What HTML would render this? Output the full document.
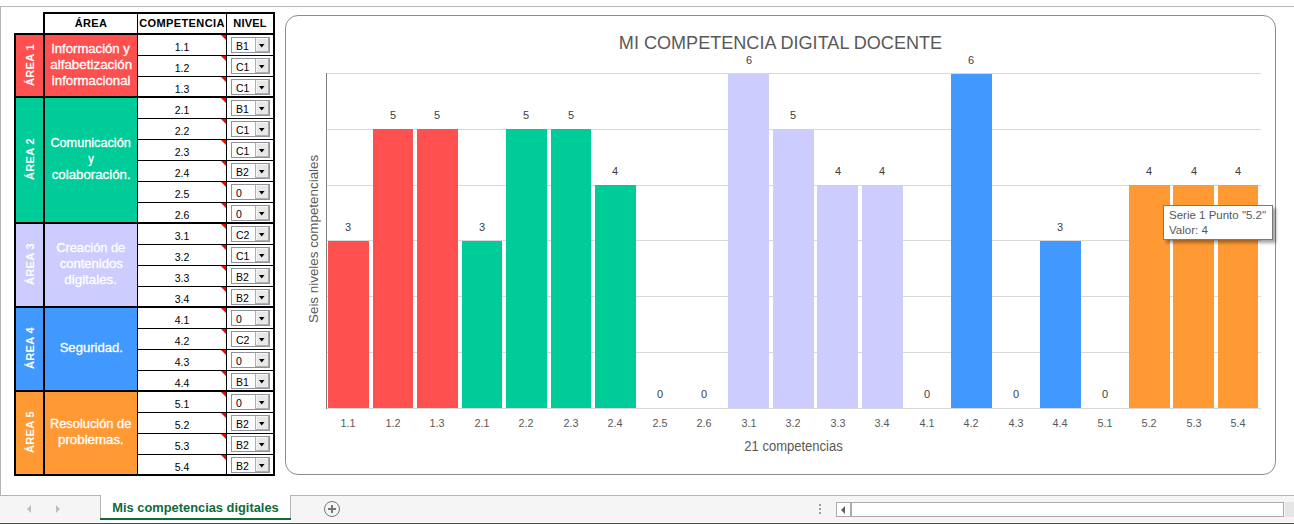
<!DOCTYPE html>
<html><head><meta charset="utf-8"><style>
*{margin:0;padding:0;box-sizing:border-box}
html,body{width:1294px;height:524px;overflow:hidden;background:#fff;position:relative;font-family:"Liberation Sans",sans-serif}
div,span{position:absolute}
.t{white-space:nowrap}
.hd{font-weight:bold;font-size:11px;color:#000;text-align:center;line-height:19px;top:14px;height:19px}
.cm{font-size:10.5px;color:#000;text-align:center;left:138px;width:88px;line-height:20px;padding-top:2px}
.ri{width:0;height:0;border-top:5px solid #f00;border-left:5px solid transparent;left:221px}
.dd{left:231px;width:39px;height:16px;border:1px solid #92929c;background:#fff}
.dd b{position:absolute;left:4px;top:2px;font-weight:normal;font-size:10.5px;line-height:13px;color:#000}
.dd i{position:absolute;left:23px;top:0;width:14px;height:14px;background:#e8e8e8;border-left:1px solid #b0b0b0;border-right:1px solid #a8a8a8;border-bottom:1px solid #b0b0b0;box-shadow:inset 1px 1px 0 #f6f6f6}
.dd i:after{content:"";position:absolute;left:3px;top:6px;width:5.5px;height:3.5px;background:#000;clip-path:polygon(0 0,100% 0,50% 100%)}
.al{left:16px;width:27px;color:#fff;font-weight:bold;font-size:11px}
.al span{position:absolute;left:50%;top:calc(50% - 1px);transform:translate(-50%,-50%) rotate(-90deg);letter-spacing:0.35px;white-space:nowrap}
.an{left:45px;width:92px;color:#fff;font-size:12.5px;line-height:16px;text-align:center;-webkit-text-stroke:0.3px #fff}
.an span{position:static;display:inline-block}
.gl{left:326px;width:935px;height:1px;background:#d9d9d9}
.bar{width:40px}
.dl{font-size:11px;color:#404040;text-align:center;width:44px}
.xl{font-size:10.8px;color:#595959;text-align:center;width:44px;top:417px}
</style></head><body>

<div style="left:0;top:6px;width:1294px;height:1px;background:#b9b9b9"></div>
<div style="left:0;top:6px;width:1px;height:490px;background:#b4b4b4"></div>
<div style="left:43px;top:12px;width:232px;height:23px;background:#000"></div>
<div style="left:14px;top:33px;width:261px;height:443px;background:#000"></div>
<div style="left:45px;top:14px;width:92px;height:19px;background:#fff"></div>
<div style="left:138px;top:14px;width:88px;height:19px;background:#fff"></div>
<div style="left:227px;top:14px;width:46px;height:19px;background:#fff"></div>
<div class="hd t" style="left:45px;width:92px;letter-spacing:0.3px">ÁREA</div>
<div class="hd t" style="left:138px;width:88px;letter-spacing:0.4px">COMPETENCIA</div>
<div class="hd t" style="left:227px;width:46px;letter-spacing:0.2px">NIVEL</div>
<div class="al" style="top:35px;height:61px;background:#FF5050"><span>ÁREA 1</span></div>
<div style="left:45px;width:92px;top:35px;height:61px;background:#FF5050"></div>
<div class="an t" style="top:40.90px"><span style="transform:scaleX(1.048)">Información y</span></div>
<div class="an t" style="top:56.90px"><span style="transform:scaleX(1.071)">alfabetización</span></div>
<div class="an t" style="top:72.90px"><span style="transform:scaleX(1.058)">informacional</span></div>
<div class="al" style="top:98px;height:124px;background:#00CC99"><span>ÁREA 2</span></div>
<div style="left:45px;width:92px;top:98px;height:124px;background:#00CC99"></div>
<div class="an t" style="top:135.10px"><span style="transform:scaleX(1.015)">Comunicación</span></div>
<div class="an t" style="top:150.90px"><span style="transform:scaleX(0.9)">y</span></div>
<div class="an t" style="top:166.90px"><span style="transform:scaleX(1.061)">colaboración.</span></div>
<div class="al" style="top:224px;height:82px;background:#CCCCFF"><span>ÁREA 3</span></div>
<div style="left:45px;width:92px;top:224px;height:82px;background:#CCCCFF"></div>
<div class="an t" style="top:240.10px"><span style="transform:scaleX(1.024)">Creación de</span></div>
<div class="an t" style="top:255.80px"><span style="transform:scaleX(1.045)">contenidos</span></div>
<div class="an t" style="top:271.80px"><span style="transform:scaleX(1.066)">digitales.</span></div>
<div class="al" style="top:308px;height:82px;background:#4199FF"><span>ÁREA 4</span></div>
<div style="left:45px;width:92px;top:308px;height:82px;background:#4199FF"></div>
<div class="an t" style="top:340.20px"><span style="transform:scaleX(1.044)">Seguridad.</span></div>
<div class="al" style="top:392px;height:82px;background:#FF9933"><span>ÁREA 5</span></div>
<div style="left:45px;width:92px;top:392px;height:82px;background:#FF9933"></div>
<div class="an t" style="top:416.30px"><span style="transform:scaleX(1.028)">Resolución de</span></div>
<div class="an t" style="top:432.00px"><span style="transform:scaleX(1.064)">problemas.</span></div>
<div style="left:138px;top:35px;width:88px;height:20px;background:#fff"></div>
<div style="left:227px;top:35px;width:46px;height:20px;background:#fff"></div>
<div class="cm t" style="top:35px">1.1</div>
<div class="ri" style="top:35px"></div>
<div class="dd" style="top:37px"><b>B1</b><i></i></div>
<div style="left:138px;top:56px;width:88px;height:20px;background:#fff"></div>
<div style="left:227px;top:56px;width:46px;height:20px;background:#fff"></div>
<div class="cm t" style="top:56px">1.2</div>
<div class="ri" style="top:56px"></div>
<div class="dd" style="top:58px"><b>C1</b><i></i></div>
<div style="left:138px;top:77px;width:88px;height:19px;background:#fff"></div>
<div style="left:227px;top:77px;width:46px;height:19px;background:#fff"></div>
<div class="cm t" style="top:77px">1.3</div>
<div class="ri" style="top:77px"></div>
<div class="dd" style="top:79px"><b>C1</b><i></i></div>
<div style="left:138px;top:98px;width:88px;height:20px;background:#fff"></div>
<div style="left:227px;top:98px;width:46px;height:20px;background:#fff"></div>
<div class="cm t" style="top:98px">2.1</div>
<div class="ri" style="top:98px"></div>
<div class="dd" style="top:100px"><b>B1</b><i></i></div>
<div style="left:138px;top:119px;width:88px;height:20px;background:#fff"></div>
<div style="left:227px;top:119px;width:46px;height:20px;background:#fff"></div>
<div class="cm t" style="top:119px">2.2</div>
<div class="ri" style="top:119px"></div>
<div class="dd" style="top:121px"><b>C1</b><i></i></div>
<div style="left:138px;top:140px;width:88px;height:20px;background:#fff"></div>
<div style="left:227px;top:140px;width:46px;height:20px;background:#fff"></div>
<div class="cm t" style="top:140px">2.3</div>
<div class="ri" style="top:140px"></div>
<div class="dd" style="top:142px"><b>C1</b><i></i></div>
<div style="left:138px;top:161px;width:88px;height:20px;background:#fff"></div>
<div style="left:227px;top:161px;width:46px;height:20px;background:#fff"></div>
<div class="cm t" style="top:161px">2.4</div>
<div class="ri" style="top:161px"></div>
<div class="dd" style="top:163px"><b>B2</b><i></i></div>
<div style="left:138px;top:182px;width:88px;height:20px;background:#fff"></div>
<div style="left:227px;top:182px;width:46px;height:20px;background:#fff"></div>
<div class="cm t" style="top:182px">2.5</div>
<div class="ri" style="top:182px"></div>
<div class="dd" style="top:184px"><b>0</b><i></i></div>
<div style="left:138px;top:203px;width:88px;height:19px;background:#fff"></div>
<div style="left:227px;top:203px;width:46px;height:19px;background:#fff"></div>
<div class="cm t" style="top:203px">2.6</div>
<div class="ri" style="top:203px"></div>
<div class="dd" style="top:205px"><b>0</b><i></i></div>
<div style="left:138px;top:224px;width:88px;height:20px;background:#fff"></div>
<div style="left:227px;top:224px;width:46px;height:20px;background:#fff"></div>
<div class="cm t" style="top:224px">3.1</div>
<div class="ri" style="top:224px"></div>
<div class="dd" style="top:226px"><b>C2</b><i></i></div>
<div style="left:138px;top:245px;width:88px;height:20px;background:#fff"></div>
<div style="left:227px;top:245px;width:46px;height:20px;background:#fff"></div>
<div class="cm t" style="top:245px">3.2</div>
<div class="ri" style="top:245px"></div>
<div class="dd" style="top:247px"><b>C1</b><i></i></div>
<div style="left:138px;top:266px;width:88px;height:20px;background:#fff"></div>
<div style="left:227px;top:266px;width:46px;height:20px;background:#fff"></div>
<div class="cm t" style="top:266px">3.3</div>
<div class="ri" style="top:266px"></div>
<div class="dd" style="top:268px"><b>B2</b><i></i></div>
<div style="left:138px;top:287px;width:88px;height:19px;background:#fff"></div>
<div style="left:227px;top:287px;width:46px;height:19px;background:#fff"></div>
<div class="cm t" style="top:287px">3.4</div>
<div class="ri" style="top:287px"></div>
<div class="dd" style="top:289px"><b>B2</b><i></i></div>
<div style="left:138px;top:308px;width:88px;height:20px;background:#fff"></div>
<div style="left:227px;top:308px;width:46px;height:20px;background:#fff"></div>
<div class="cm t" style="top:308px">4.1</div>
<div class="ri" style="top:308px"></div>
<div class="dd" style="top:310px"><b>0</b><i></i></div>
<div style="left:138px;top:329px;width:88px;height:20px;background:#fff"></div>
<div style="left:227px;top:329px;width:46px;height:20px;background:#fff"></div>
<div class="cm t" style="top:329px">4.2</div>
<div class="ri" style="top:329px"></div>
<div class="dd" style="top:331px"><b>C2</b><i></i></div>
<div style="left:138px;top:350px;width:88px;height:20px;background:#fff"></div>
<div style="left:227px;top:350px;width:46px;height:20px;background:#fff"></div>
<div class="cm t" style="top:350px">4.3</div>
<div class="ri" style="top:350px"></div>
<div class="dd" style="top:352px"><b>0</b><i></i></div>
<div style="left:138px;top:371px;width:88px;height:19px;background:#fff"></div>
<div style="left:227px;top:371px;width:46px;height:19px;background:#fff"></div>
<div class="cm t" style="top:371px">4.4</div>
<div class="ri" style="top:371px"></div>
<div class="dd" style="top:373px"><b>B1</b><i></i></div>
<div style="left:138px;top:392px;width:88px;height:20px;background:#fff"></div>
<div style="left:227px;top:392px;width:46px;height:20px;background:#fff"></div>
<div class="cm t" style="top:392px">5.1</div>
<div class="ri" style="top:392px"></div>
<div class="dd" style="top:394px"><b>0</b><i></i></div>
<div style="left:138px;top:413px;width:88px;height:20px;background:#fff"></div>
<div style="left:227px;top:413px;width:46px;height:20px;background:#fff"></div>
<div class="cm t" style="top:413px">5.2</div>
<div class="ri" style="top:413px"></div>
<div class="dd" style="top:415px"><b>B2</b><i></i></div>
<div style="left:138px;top:434px;width:88px;height:20px;background:#fff"></div>
<div style="left:227px;top:434px;width:46px;height:20px;background:#fff"></div>
<div class="cm t" style="top:434px">5.3</div>
<div class="ri" style="top:434px"></div>
<div class="dd" style="top:436px"><b>B2</b><i></i></div>
<div style="left:138px;top:455px;width:88px;height:19px;background:#fff"></div>
<div style="left:227px;top:455px;width:46px;height:19px;background:#fff"></div>
<div class="cm t" style="top:455px">5.4</div>
<div class="ri" style="top:455px"></div>
<div class="dd" style="top:457px"><b>B2</b><i></i></div>
<div style="left:285px;top:15px;width:991px;height:460px;border:1px solid #8c8c8c;border-radius:13px"></div>
<div class="t" style="left:285px;top:31.5px;width:991px;text-align:center;font-size:18.8px;color:#595959;line-height:22px;transform:scaleX(0.962)">MI COMPETENCIA DIGITAL DOCENTE</div>
<div class="gl" style="top:73px"></div>
<div class="gl" style="top:129px"></div>
<div class="gl" style="top:185px"></div>
<div class="gl" style="top:240px"></div>
<div class="gl" style="top:296px"></div>
<div class="gl" style="top:352px"></div>
<div class="gl" style="top:408px"></div>
<div style="left:326px;top:73px;width:1px;height:336px;background:#808080"></div>
<div class="bar" style="width:41px;left:328px;top:241px;height:167px;background:#FF5050"></div>
<div class="dl t" style="left:326px;top:221px">3</div>
<div class="xl t" style="left:326px">1.1</div>
<div class="bar" style="width:40px;left:373px;top:129px;height:279px;background:#FF5050"></div>
<div class="dl t" style="left:371px;top:109px">5</div>
<div class="xl t" style="left:371px">1.2</div>
<div class="bar" style="width:41px;left:417px;top:129px;height:279px;background:#FF5050"></div>
<div class="dl t" style="left:415px;top:109px">5</div>
<div class="xl t" style="left:415px">1.3</div>
<div class="bar" style="width:40px;left:462px;top:241px;height:167px;background:#00CC99"></div>
<div class="dl t" style="left:460px;top:221px">3</div>
<div class="xl t" style="left:460px">2.1</div>
<div class="bar" style="width:41px;left:506px;top:129px;height:279px;background:#00CC99"></div>
<div class="dl t" style="left:504px;top:109px">5</div>
<div class="xl t" style="left:504px">2.2</div>
<div class="bar" style="width:40px;left:551px;top:129px;height:279px;background:#00CC99"></div>
<div class="dl t" style="left:549px;top:109px">5</div>
<div class="xl t" style="left:549px">2.3</div>
<div class="bar" style="width:41px;left:595px;top:185px;height:223px;background:#00CC99"></div>
<div class="dl t" style="left:593px;top:165px">4</div>
<div class="xl t" style="left:593px">2.4</div>
<div class="dl t" style="left:638px;top:388px">0</div>
<div class="xl t" style="left:638px">2.5</div>
<div class="dl t" style="left:682px;top:388px">0</div>
<div class="xl t" style="left:682px">2.6</div>
<div class="bar" style="width:41px;left:728px;top:74px;height:334px;background:#CCCCFF"></div>
<div class="dl t" style="left:727px;top:54px">6</div>
<div class="xl t" style="left:727px">3.1</div>
<div class="bar" style="width:41px;left:773px;top:129px;height:279px;background:#CCCCFF"></div>
<div class="dl t" style="left:771px;top:109px">5</div>
<div class="xl t" style="left:771px">3.2</div>
<div class="bar" style="width:41px;left:817px;top:185px;height:223px;background:#CCCCFF"></div>
<div class="dl t" style="left:816px;top:165px">4</div>
<div class="xl t" style="left:816px">3.3</div>
<div class="bar" style="width:41px;left:862px;top:185px;height:223px;background:#CCCCFF"></div>
<div class="dl t" style="left:860px;top:165px">4</div>
<div class="xl t" style="left:860px">3.4</div>
<div class="dl t" style="left:905px;top:388px">0</div>
<div class="xl t" style="left:905px">4.1</div>
<div class="bar" style="width:41px;left:951px;top:74px;height:334px;background:#4199FF"></div>
<div class="dl t" style="left:949px;top:54px">6</div>
<div class="xl t" style="left:949px">4.2</div>
<div class="dl t" style="left:994px;top:388px">0</div>
<div class="xl t" style="left:994px">4.3</div>
<div class="bar" style="width:41px;left:1040px;top:241px;height:167px;background:#4199FF"></div>
<div class="dl t" style="left:1038px;top:221px">3</div>
<div class="xl t" style="left:1038px">4.4</div>
<div class="dl t" style="left:1083px;top:388px">0</div>
<div class="xl t" style="left:1083px">5.1</div>
<div class="bar" style="width:41px;left:1129px;top:185px;height:223px;background:#FF9933"></div>
<div class="dl t" style="left:1127px;top:165px">4</div>
<div class="xl t" style="left:1127px">5.2</div>
<div class="bar" style="width:41px;left:1173px;top:185px;height:223px;background:#FF9933"></div>
<div class="dl t" style="left:1172px;top:165px">4</div>
<div class="xl t" style="left:1172px">5.3</div>
<div class="bar" style="width:40px;left:1218px;top:185px;height:223px;background:#FF9933"></div>
<div class="dl t" style="left:1216px;top:165px">4</div>
<div class="xl t" style="left:1216px">5.4</div>
<div class="t" style="left:326px;top:438px;width:935px;text-align:center;font-size:14px;color:#595959;transform:scaleX(0.93)">21 competencias</div>
<div class="t" style="left:231px;top:232px;width:166px;height:16px;text-align:center;font-size:13.4px;color:#595959;transform:rotate(-90deg)">Seis niveles competenciales</div>
<div style="left:1163px;top:205px;width:110px;height:35px;background:#fff;border:1px solid #7a7a7a;box-shadow:3px 3px 3px rgba(0,0,0,0.35)"></div>
<div class="t" style="left:1169px;top:208px;font-size:11.5px;line-height:15px;color:#575757">Serie 1 Punto "5.2"<br>Valor: 4</div>
<div style="left:0;top:495px;width:1294px;height:1px;background:#b4b4b4"></div>
<div style="left:0;top:496px;width:1294px;height:26px;background:#f5f5f5"></div>
<div style="left:0;top:522px;width:1294px;height:1px;background:#fff"></div>
<div style="left:0;top:523px;width:1294px;height:1px;background:#0f6b38"></div>
<div style="left:100px;top:495px;width:191px;height:27px;background:#fff;border-left:1px solid #b4b4b4;border-right:1px solid #b4b4b4"></div>
<div style="left:100px;top:518px;width:191px;height:2px;background:#0f6b38"></div>
<div style="left:100px;top:520px;width:191px;height:2px;background:#fff"></div>
<div class="t" style="left:101px;top:500px;width:189px;text-align:center;font-size:13.6px;font-weight:bold;color:#0e6b3c;transform:scaleX(0.945)">Mis competencias digitales</div>
<div style="left:27px;top:505px;border-right:4px solid #bdbdbd;border-top:4px solid transparent;border-bottom:4px solid transparent"></div>
<div style="left:56px;top:505px;border-left:4px solid #bdbdbd;border-top:4px solid transparent;border-bottom:4px solid transparent"></div>
<div style="left:324px;top:501px;width:16px;height:16px;border:1px solid #777;border-radius:50%"></div>
<div style="left:328px;top:508px;width:8px;height:2px;background:#777"></div>
<div style="left:331px;top:505px;width:2px;height:8px;background:#777"></div>
<div style="left:819px;top:504px;width:2px;height:2px;background:#a0a0a0"></div>
<div style="left:819px;top:508px;width:2px;height:2px;background:#a0a0a0"></div>
<div style="left:819px;top:512px;width:2px;height:2px;background:#a0a0a0"></div>
<div style="left:836px;top:502px;width:448px;height:15px;background:#fff;border:1px solid #ababab"></div>
<div style="left:850px;top:503px;width:2px;height:13px;background:#ababab"></div>
<div style="left:841px;top:506px;border-right:4px solid #606060;border-top:4px solid transparent;border-bottom:4px solid transparent"></div>
<div style="left:1285px;top:502px;width:9px;height:15px;background:#e6e6e6"></div>
</body></html>
